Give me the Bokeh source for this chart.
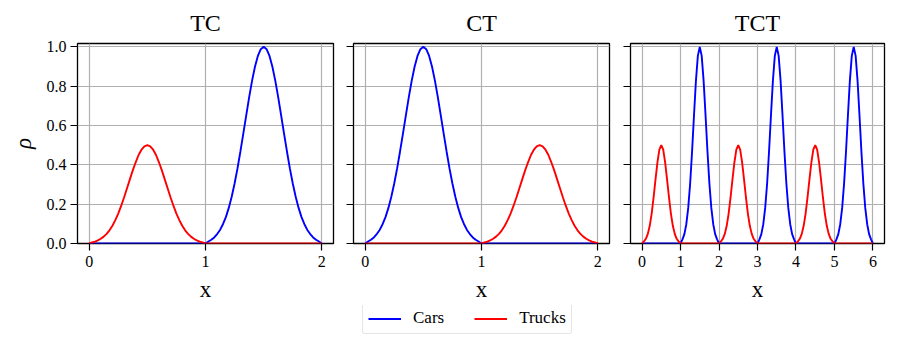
import numpy as np
from bokeh.plotting import figure
from bokeh.layouts import row, column
from bokeh.models import Legend, LegendItem, FixedTicker, Range1d, PrintfTickFormatter
from bokeh.embed import file_html
from bokeh.resources import INLINE

# ---------------- data ----------------
titles = ["TC", "CT", "TCT"]
series_names = ["Cars", "Trucks"]
y_ticks = [0.0, 0.2, 0.4, 0.6, 0.8, 1.0]
x_ticks_short = [0, 1, 2]
x_ticks_long = [0, 1, 2, 3, 4, 5, 6]

# sample positions
x_short = np.linspace(0, 2, 81)    # step 0.025
x_long = np.linspace(0, 6, 121)    # step 0.05

# TC panel (step 0.025)
tc_cars = ([0.0] * 40 +
           [0.0, 0.010, 0.019, 0.031, 0.048, 0.069, 0.098, 0.134, 0.181, 0.238,
            0.305, 0.382, 0.468, 0.559, 0.652, 0.743, 0.827, 0.899, 0.954, 0.988,
            1.000, 0.988, 0.954, 0.899, 0.827, 0.743, 0.652, 0.559, 0.468, 0.382,
            0.305, 0.238, 0.181, 0.134, 0.098, 0.069, 0.048, 0.031, 0.019, 0.010] +
           [0.0])
tc_trucks = ([0.0, 0.005, 0.010, 0.016, 0.024, 0.035, 0.049, 0.067, 0.090, 0.119,
              0.152, 0.191, 0.234, 0.280, 0.326, 0.372, 0.413, 0.450, 0.477, 0.494,
              0.500, 0.494, 0.477, 0.450, 0.413, 0.372, 0.326, 0.280, 0.234, 0.191,
              0.152, 0.119, 0.090, 0.067, 0.049, 0.035, 0.024, 0.016, 0.010, 0.005] +
             [0.0] * 40 +
             [0.0])

# CT panel (step 0.025)
ct_cars = ([0.0, 0.010, 0.019, 0.031, 0.048, 0.069, 0.098, 0.134, 0.181, 0.238,
            0.305, 0.382, 0.468, 0.559, 0.652, 0.743, 0.827, 0.899, 0.954, 0.988,
            1.000, 0.988, 0.954, 0.899, 0.827, 0.743, 0.652, 0.559, 0.468, 0.382,
            0.305, 0.238, 0.181, 0.134, 0.098, 0.069, 0.048, 0.031, 0.019, 0.010] +
           [0.0] * 40 +
           [0.0])
ct_trucks = ([0.0] * 40 +
             [0.0, 0.005, 0.010, 0.016, 0.024, 0.035, 0.049, 0.067, 0.090, 0.119,
              0.152, 0.191, 0.234, 0.280, 0.326, 0.372, 0.413, 0.450, 0.477, 0.494,
              0.500, 0.494, 0.477, 0.450, 0.413, 0.372, 0.326, 0.280, 0.234, 0.191,
              0.152, 0.119, 0.090, 0.067, 0.049, 0.035, 0.024, 0.016, 0.010, 0.005] +
             [0.0])

# TCT panel (step 0.05)
tct_cars = ([0.0] * 20 +
            [0.0, 0.021, 0.048, 0.098, 0.181, 0.305, 0.468, 0.652, 0.827, 0.954,
             1.000, 0.954, 0.827, 0.652, 0.468, 0.305, 0.181, 0.098, 0.048, 0.021] +
            [0.0] * 20 +
            [0.0, 0.021, 0.048, 0.098, 0.181, 0.305, 0.468, 0.652, 0.827, 0.954,
             1.000, 0.954, 0.827, 0.652, 0.468, 0.305, 0.181, 0.098, 0.048, 0.021] +
            [0.0] * 20 +
            [0.0, 0.021, 0.048, 0.098, 0.181, 0.305, 0.468, 0.652, 0.827, 0.954,
             1.000, 0.954, 0.827, 0.652, 0.468, 0.305, 0.181, 0.098, 0.048, 0.021] +
            [0.0])
tct_trucks = ([0.0, 0.011, 0.024, 0.049, 0.090, 0.152, 0.234, 0.326, 0.413, 0.477,
               0.500, 0.477, 0.413, 0.326, 0.234, 0.152, 0.090, 0.049, 0.024, 0.011] +
              [0.0] * 20 +
              [0.0, 0.011, 0.024, 0.049, 0.090, 0.152, 0.234, 0.326, 0.413, 0.477,
               0.500, 0.477, 0.413, 0.326, 0.234, 0.152, 0.090, 0.049, 0.024, 0.011] +
              [0.0] * 20 +
              [0.0, 0.011, 0.024, 0.049, 0.090, 0.152, 0.234, 0.326, 0.413, 0.477,
               0.500, 0.477, 0.413, 0.326, 0.234, 0.152, 0.090, 0.049, 0.024, 0.011] +
              [0.0] * 20 +
              [0.0])

# ---------------- styling ----------------
FONT = "Liberation Serif"
CAR_COLOR = "#0000ff"
TRUCK_COLOR = "#ff0000"
LINE_W = 1.9


def make_panel(title, xs, cars, trucks, xr, xticks, frame_w, left, right, first):
    p = figure(title=title, frame_width=frame_w, frame_height=200,
               min_border_left=left, min_border_right=right,
               min_border_top=42, min_border_bottom=62,
               x_range=Range1d(*xr), y_range=Range1d(0, 1.017),
               output_backend="svg", toolbar_location=None)
    p.background_fill_color = "white"
    p.border_fill_color = "white"
    p.outline_line_color = "black"
    p.outline_line_width = 1.3
    p.outline_line_alpha = 1.0

    p.title.text_font = FONT
    p.title.text_font_size = "24px"
    p.title.text_font_style = "normal"
    p.title.align = "center"
    p.title.text_color = "black"
    p.title.standoff = 15

    p.xaxis.ticker = FixedTicker(ticks=xticks)
    p.yaxis.ticker = FixedTicker(ticks=y_ticks)
    p.yaxis.formatter = PrintfTickFormatter(format="%.1f")
    for ax in (p.xaxis, p.yaxis):
        ax.axis_line_color = None
        ax.major_tick_out = 7
        ax.major_tick_in = 0
        ax.major_tick_line_width = 1.2
        ax.major_tick_line_color = "black"
        ax.minor_tick_line_color = None
        ax.major_label_text_font = FONT
        ax.major_label_text_font_size = "16px"
        ax.major_label_text_color = "black"
        ax.axis_label_text_font = FONT
        ax.axis_label_text_color = "black"
        ax.axis_label_text_font_size = "23px"
    p.xaxis.major_label_standoff = 5
    p.xaxis.axis_label = "x"
    p.xaxis.axis_label_text_font_style = "normal"
    p.xaxis.axis_label_standoff = 7
    if first:
        p.yaxis.axis_label = "ρ"
        p.yaxis.axis_label_text_font_style = "italic"
        p.yaxis.major_label_standoff = 4
        p.yaxis.axis_label_standoff = 8
    else:
        p.yaxis.major_label_overrides = {t: "" for t in y_ticks}
        p.yaxis.major_label_standoff = 0

    p.grid.grid_line_color = "#b0b0b0"
    p.grid.grid_line_width = 1.2

    p.line(xs, cars, line_color=CAR_COLOR, line_width=LINE_W)
    p.line(xs, trucks, line_color=TRUCK_COLOR, line_width=LINE_W)
    return p


p1 = make_panel(titles[0], x_short, tc_cars, tc_trucks, (-0.1, 2.1),
                x_ticks_short, 256, 77, 10, True)
p2 = make_panel(titles[1], x_short, ct_cars, ct_trucks, (-0.1, 2.1),
                x_ticks_short, 256, 10, 10, False)
p3 = make_panel(titles[2], x_long, tct_cars, tct_trucks, (-0.3, 6.3),
                x_ticks_long, 254, 11, 14, False)

# legend strip below the three panels (its line renderers sit outside the visible range)
lf = figure(width=891, height=39, min_border=0, min_border_left=0,
            min_border_right=0, min_border_top=0, min_border_bottom=0,
            x_range=Range1d(0, 1), y_range=Range1d(0, 1),
            x_axis_type=None, y_axis_type=None,
            output_backend="svg", toolbar_location=None)
lf.outline_line_color = None
lf.background_fill_color = "white"
lf.border_fill_color = "white"
lf.grid.visible = False
r_car = lf.line(x=[-3, -2], y=[-3, -2], line_color=CAR_COLOR, line_width=LINE_W)
r_truck = lf.line(x=[-3, -2], y=[-3, -2], line_color=TRUCK_COLOR, line_width=LINE_W)

legend = Legend(items=[LegendItem(label=series_names[0], renderers=[r_car]),
                       LegendItem(label=series_names[1], renderers=[r_truck])],
                location=(362, 10), orientation="horizontal")
legend.border_line_color = "#cccccc"
legend.border_line_width = 1.3
legend.background_fill_color = "white"
legend.background_fill_alpha = 1.0
legend.label_text_font = FONT
legend.label_text_font_size = "17px"
legend.label_text_color = "black"
legend.glyph_width = 33
legend.glyph_height = 17
legend.label_height = 17
legend.label_standoff = 12
legend.spacing = 30
legend.padding = 5
legend.margin = 0
if "border_radius" in Legend.properties():
    legend.border_radius = 3
lf.add_layout(legend)

layout = column(row(p1, p2, p3, spacing=0), lf, spacing=0)

html = file_html(layout, INLINE)
open("out.html", "w").write(html)
